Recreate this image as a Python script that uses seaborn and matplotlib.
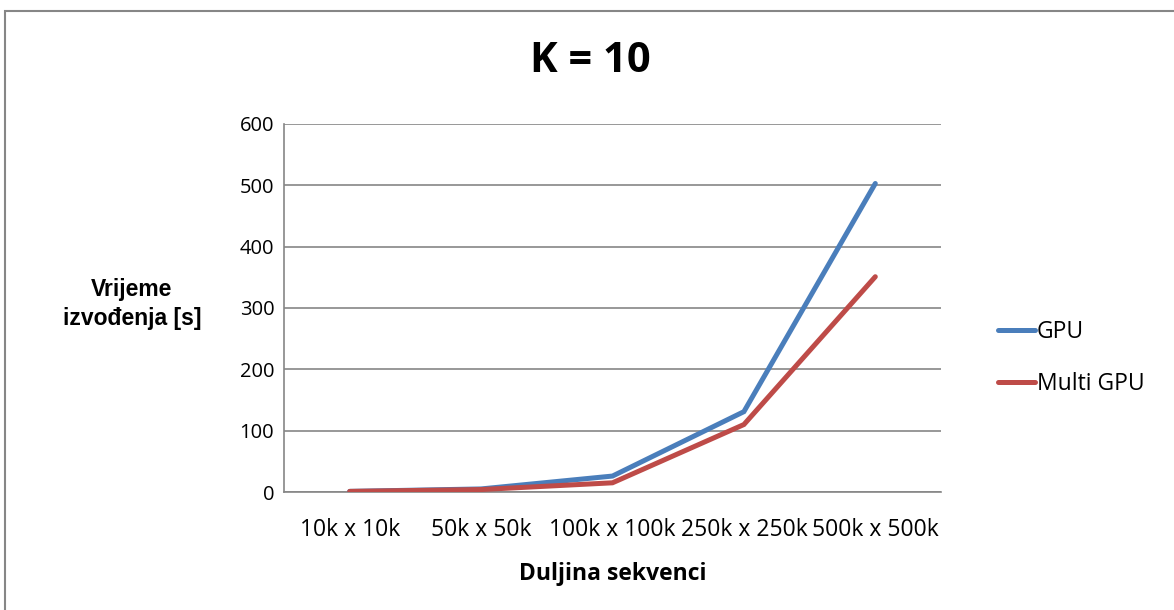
import matplotlib
matplotlib.use("Agg")
import matplotlib.pyplot as plt
from matplotlib.patches import Rectangle
from matplotlib.lines import Line2D
import pandas as pd
import seaborn as sns

categories = ["10k x 10k", "50k x 50k", "100k x 100k", "250k x 250k", "500k x 500k"]
gpu = [1, 5, 26, 131, 503]
multi_gpu = [1, 4, 15, 110, 351]
series_names = ["GPU", "Multi GPU"]
y_ticks = [0, 100, 200, 300, 400, 500, 600]

sns.set_theme(style="white")
plt.rcParams["font.family"] = ["Open Sans", "DejaVu Sans"]
plt.rcParams["text.color"] = "black"
plt.rcParams["axes.labelcolor"] = "black"
plt.rcParams["xtick.labelcolor"] = "black"
plt.rcParams["ytick.labelcolor"] = "black"

df = pd.DataFrame({
    "x": list(range(len(categories))) * 2,
    "value": gpu + multi_gpu,
    "series": [series_names[0]] * len(categories) + [series_names[1]] * len(categories),
})

W, H = 1174, 610
fig = plt.figure(figsize=(W / 100, H / 100), dpi=100)
ax = fig.add_axes([284 / W, 1 - 492 / H, (941 - 284) / W, (492 - 124) / H])

palette = {"GPU": "#4a7ebb", "Multi GPU": "#be4b48"}
sns.lineplot(data=df, x="x", y="value", hue="series", palette=palette,
             linewidth=3.6, ax=ax, legend=False, solid_capstyle="round",
             solid_joinstyle="miter", zorder=3)

n = len(categories)
ax.set_xlim(-0.5, n - 0.5)
ax.set_ylim(0, 600)
ax.set_yticks(y_ticks)
ax.set_yticklabels([str(t) for t in y_ticks], fontsize=14.5)
ax.yaxis.grid(True, color="#868686", linewidth=1.2)
ax.xaxis.grid(False)

# category labels sit between the boundary ticks
ax.set_xticks([i - 0.5 for i in range(n + 1)], minor=False)
ax.set_xticklabels([""] * (n + 1))
ax.set_xticks(range(n), minor=True)
ax.set_xticklabels(categories, minor=True, fontsize=16.5)
ax.tick_params(axis="x", which="major", length=6, width=1.2, color="#868686", direction="out")
ax.tick_params(axis="x", which="minor", length=0, pad=19)
ax.tick_params(axis="y", length=6, width=1.2, color="#868686", direction="out", pad=1)

for side in ["top", "right"]:
    ax.spines[side].set_visible(False)
for side in ["left", "bottom"]:
    ax.spines[side].set_color("#868686")
    ax.spines[side].set_linewidth(1.2)

ax.set_xlabel("Duljina sekvenci", fontsize=16.5, fontweight="bold", labelpad=14)
ax.set_ylabel("")
fig.text(132 / W, 1 - 304 / H, "Vrijeme\nizvođenja [s]", ha="center", va="center",
         fontsize=16.5, fontweight="bold", family=["Liberation Sans", "DejaVu Sans"],
         linespacing=1.35)

fig.text(590 / W, 1 - 62 / H, "K = 10", ha="center", va="center",
         fontsize=30, fontweight="bold")

# legend
handles = [Line2D([0], [0], color=palette[s], linewidth=3.6, solid_capstyle="round")
           for s in series_names]
fig.legend(handles, series_names, loc="center left",
           bbox_to_anchor=(998 / W, 1 - 358 / H), frameon=False, fontsize=16.5,
           handlelength=1.6, handletextpad=0.1, labelspacing=1.2,
           borderaxespad=0, borderpad=0)

# chart-area border
fig.add_artist(Rectangle((5 / W, -0.1), 1.2, 1 - 11 / H + 0.1, transform=fig.transFigure,
                         fill=False, edgecolor="#868686", linewidth=1.5))

fig.savefig("out.png", dpi=100, facecolor="white")
